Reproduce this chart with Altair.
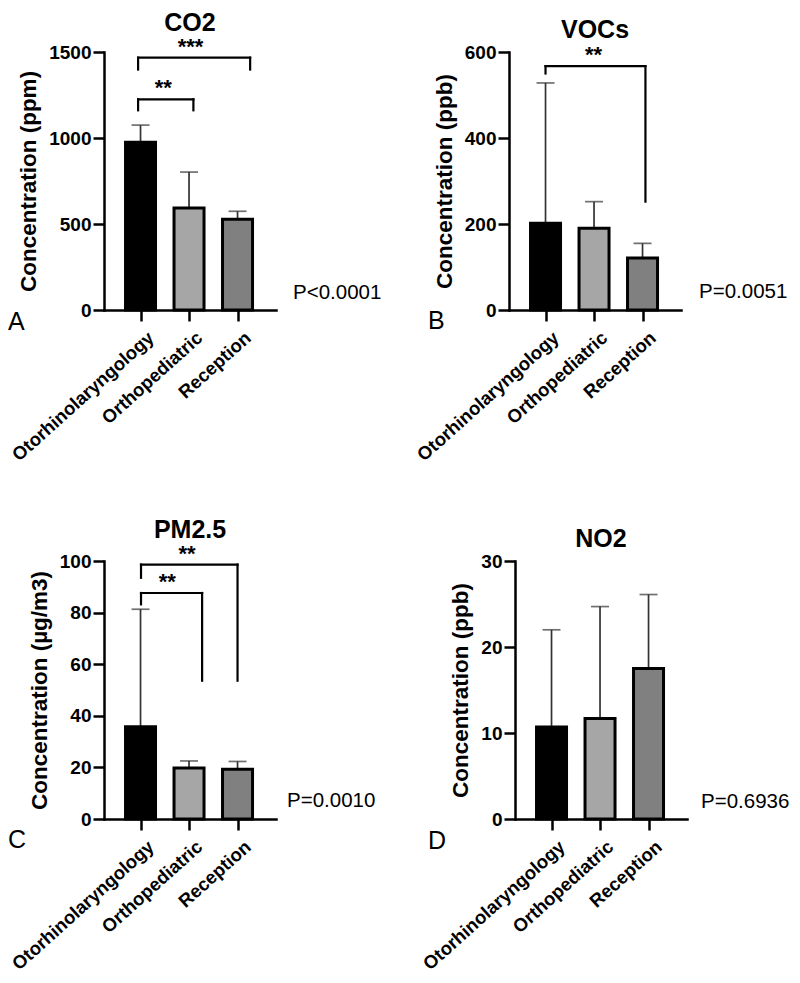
import altair as alt
import pandas as pd

# ---------------- data ----------------
categories = ["Otorhinolaryngology", "Orthopediatric", "Reception"]
positions = [1, 2, 3]
bar_colors = ["#000000", "#a6a6a6", "#808080"]

co2_mean = [975, 593, 527]
co2_sd = [100, 209, 47]
voc_mean = [202, 190, 121]
voc_sd = [326, 62, 34]
pm_mean = [35.8, 19.8, 19.3]
pm_sd = [45.5, 2.7, 3.0]
no2_mean = [10.7, 11.7, 17.5]
no2_sd = [11.3, 13.0, 8.6]

# significance brackets: start, end, top, left-leg bottom, right-leg bottom, star x, label
co2_br_x1 = [0.95, 0.95]
co2_br_x2 = [2.09, 3.26]
co2_br_top = [1225, 1467]
co2_br_b1 = [1161, 1398]
co2_br_b2 = [1161, 1398]
co2_br_sx = [1.47, 2.03]
co2_br_lab = ["**", "***"]

voc_br_x1 = [1.0]
voc_br_x2 = [3.06]
voc_br_top = [567]
voc_br_b1 = [550]
voc_br_b2 = [252]
voc_br_sx = [1.99]
voc_br_lab = ["**"]

pm_br_x1 = [1.01, 1.01]
pm_br_x2 = [2.27, 3.0]
pm_br_top = [87.6, 98.6]
pm_br_b1 = [83.2, 93.5]
pm_br_b2 = [53.6, 53.6]
pm_br_sx = [1.55, 1.96]
pm_br_lab = ["**", "**"]

FONT = "Liberation Sans"
W, H = 172, 258


def label_expr():
    parts = " : ".join(
        f"datum.value == {p} ? '{c}'" for p, c in zip(positions, categories)
    )
    return parts + " : ''"


def panel(title, mean, sd, ymax, yticks, ytitle, br, ptext, pxy, letter, lxy):
    df = pd.DataFrame({
        "cat": categories,
        "pos": positions,
        "mean": mean,
        "upper": [m + s for m, s in zip(mean, sd)],
    })
    xs = alt.Scale(domain=[0.35, 3.69], nice=False, zero=False)
    ys = alt.Scale(domain=[0, ymax], nice=False)
    xaxis = alt.Axis(values=positions, labelExpr=label_expr(), title=None,
                     labelAngle=-42, labelAlign="right", labelBaseline="top",
                     labelPadding=7, labelOffset=4, labelOverlap=False,
                     labelFlush=False, labelBound=False, labelLimit=400,
                     labelFontSize=18.5)
    yaxis = alt.Axis(values=yticks, title=ytitle, titlePadding=8, labelPadding=2,
                     format="d", labelOverlap=False, labelFlush=False)

    base = alt.Chart(df)
    err = base.mark_rule(color="#333333", strokeWidth=1.7).encode(
        x=alt.X("pos:Q", scale=xs, axis=xaxis),
        y=alt.Y("mean:Q", scale=ys, axis=yaxis),
        y2="upper:Q",
    )
    cap = base.mark_tick(orient="horizontal", size=18, thickness=1.7,
                         color="#333333").encode(
        x=alt.X("pos:Q", scale=xs),
        y=alt.Y("upper:Q", scale=ys),
    )
    bars = base.mark_bar(size=30, stroke="black", strokeWidth=3).encode(
        x=alt.X("pos:Q", scale=xs),
        y=alt.Y("mean:Q", scale=ys),
        color=alt.Color("cat:N", scale=alt.Scale(domain=categories, range=bar_colors),
                        legend=None),
    )
    layers = [err, cap, bars]

    if br is not None:
        bdf = pd.DataFrame(dict(zip(["x1", "x2", "top", "b1", "b2", "sx", "lab"], br)))
        bb = alt.Chart(bdf)
        rs = dict(color="black", strokeWidth=2.2, strokeCap="square")
        layers.append(bb.mark_rule(**rs).encode(
            x=alt.X("x1:Q", scale=xs), x2="x2:Q", y=alt.Y("top:Q", scale=ys)))
        layers.append(bb.mark_rule(**rs).encode(
            x=alt.X("x1:Q", scale=xs), y=alt.Y("b1:Q", scale=ys), y2="top:Q"))
        layers.append(bb.mark_rule(**rs).encode(
            x=alt.X("x2:Q", scale=xs), y=alt.Y("b2:Q", scale=ys), y2="top:Q"))
        layers.append(bb.mark_text(font=FONT, fontSize=22, fontWeight="bold",
                                   baseline="alphabetic", dy=-4, color="black").encode(
            x=alt.X("sx:Q", scale=xs), y=alt.Y("top:Q", scale=ys), text="lab:N"))

    ann = alt.Chart(pd.DataFrame({"t": [ptext]})).mark_text(
        font=FONT, fontSize=20.5, align="left", baseline="alphabetic", color="black"
    ).encode(text="t:N", x=alt.value(pxy[0]), y=alt.value(pxy[1]))
    let = alt.Chart(pd.DataFrame({"t": [letter]})).mark_text(
        font=FONT, fontSize=25, align="left", baseline="alphabetic", color="black"
    ).encode(text="t:N", x=alt.value(lxy[0]), y=alt.value(lxy[1]))
    layers += [ann, let]

    return alt.layer(*layers).properties(
        width=W, height=H,
        title=alt.TitleParams(title, font=FONT, fontSize=25, fontWeight="bold",
                              anchor="middle", offset=0, color="black"),
    )


pA = panel("CO2", co2_mean, co2_sd, 1500, [0, 500, 1000, 1500], "Concentration (ppm)",
           [co2_br_x1, co2_br_x2, co2_br_top, co2_br_b1, co2_br_b2, co2_br_sx, co2_br_lab],
           "P<0.0001", (189, 247), "A", (-96, 278))
pB = panel("VOCs", voc_mean, voc_sd, 600, [0, 200, 400, 600], "Concentration (ppb)",
           [voc_br_x1, voc_br_x2, voc_br_top, voc_br_b1, voc_br_b2, voc_br_sx, voc_br_lab],
           "P=0.0051", (190, 246), "B", (-81, 277))
pC = panel("PM2.5", pm_mean, pm_sd, 100, [0, 20, 40, 60, 80, 100], "Concentration (µg/m3)",
           [pm_br_x1, pm_br_x2, pm_br_top, pm_br_b1, pm_br_b2, pm_br_sx, pm_br_lab],
           "P=0.0010", (183, 246), "C", (-96, 287))
pD = panel("NO2", no2_mean, no2_sd, 30, [0, 10, 20, 30], "Concentration (ppb)",
           None, "P=0.6936", (186, 247), "D", (-87, 288))

chart = alt.vconcat(
    alt.hconcat(pA, pB, spacing=31),
    alt.hconcat(pC, pD, spacing=43),
    spacing=52,
).properties(
    padding={"left": 0, "top": 2, "right": 0, "bottom": 0}
).configure_view(stroke=None).configure_axis(
    grid=False,
    domainColor="black", domainWidth=2.5, domainCap="square",
    tickColor="black", tickWidth=2.5, tickSize=11,
    labelFont=FONT, labelFontSize=19, labelFontWeight="bold", labelColor="black",
    titleFont=FONT, titleFontSize=22.5, titleFontWeight="bold", titleColor="black",
)

chart.save("out.html", embed_options={"renderer": "svg", "actions": False})
